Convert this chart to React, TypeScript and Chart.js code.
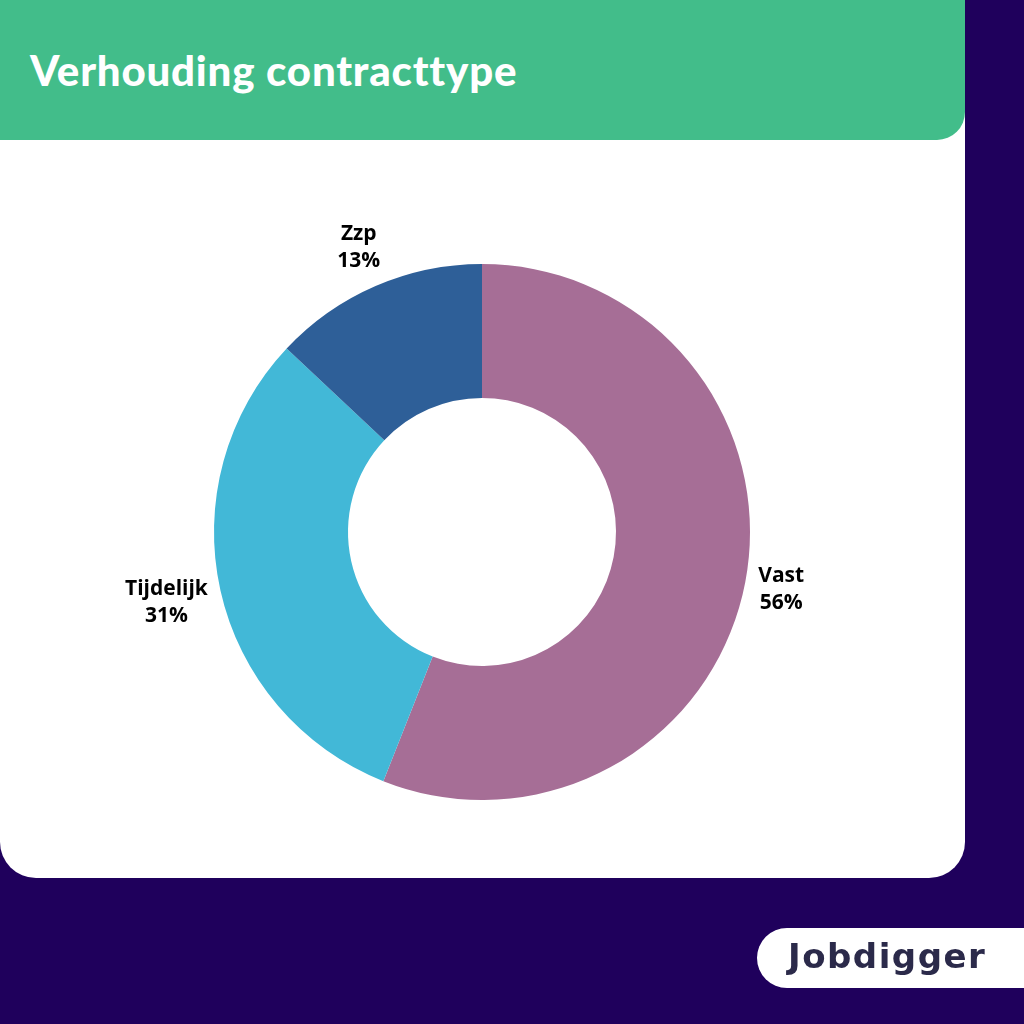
import React, { useEffect, useRef } from "react";
import { Chart, registerables } from "chart.js";

Chart.register(...registerables);

const categories = ["Vast", "Tijdelijk", "Zzp"];
const shares = [56, 31, 13];
const valueLabels = ["56%", "31%", "13%"];
const colors = ["#A66E96", "#42B8D7", "#2E5F98"];

const outsideLabels = {
  id: "outsideLabels",
  afterDatasetsDraw(chart: any) {
    const ctx = chart.ctx;
    const meta = chart.getDatasetMeta(0);
    ctx.save();
    ctx.font = "bold 21px 'Open Sans'";
    ctx.fillStyle = "#000000";
    ctx.textAlign = "center";
    ctx.textBaseline = "middle";
    const lineH = 27;
    meta.data.forEach((arc: any, i: number) => {
      const mid = (arc.startAngle + arc.endAngle) / 2;
      const cx = arc.x;
      const cy = arc.y;
      const lines = [categories[i], valueLabels[i]];
      const w = Math.max(...lines.map((l) => ctx.measureText(l).width));
      const h = lines.length * lineH;
      const r = arc.outerRadius + 9;
      const cos = Math.cos(mid);
      const sin = Math.sin(mid);
      const off = Math.abs(cos) * w / 2 + Math.abs(sin) * h / 2;
      const x = cx + cos * (r + off);
      const y = cy + sin * (r + off);
      lines.forEach((l, k) => {
        ctx.fillText(l, x, y - h / 2 + lineH / 2 + k * lineH);
      });
    });
    ctx.restore();
  },
};

function DonutChart() {
  const ref = useRef<HTMLCanvasElement>(null);
  useEffect(() => {
    if (!ref.current) return;
    const chart = new Chart(ref.current, {
      type: "doughnut",
      data: {
        labels: categories,
        datasets: [
          {
            data: shares,
            backgroundColor: colors,
            borderWidth: 0,
          },
        ],
      },
      options: {
        animation: false,
        responsive: false,
        maintainAspectRatio: false,
        cutout: "50%",
        layout: { padding: 132 },
        plugins: {
          legend: { display: false },
          tooltip: { enabled: false },
        },
      },
      plugins: [outsideLabels],
    });
    return () => chart.destroy();
  }, []);
  return (
    <canvas
      ref={ref}
      width={800}
      height={800}
      style={{ position: "absolute", left: 82, top: 132, width: 800, height: 800 }}
    />
  );
}

export default function App() {
  return (
    <div
      style={{
        position: "fixed",
        left: 0,
        top: 0,
        width: 1024,
        height: 1024,
        background: "#1F005C",
        overflow: "hidden",
      }}
    >
      <div
        style={{
          position: "absolute",
          left: 0,
          top: 100,
          width: 965,
          height: 778,
          background: "#FFFFFF",
          borderBottomLeftRadius: 36,
          borderBottomRightRadius: 36,
        }}
      />
      <div
        style={{
          position: "absolute",
          left: 0,
          top: 0,
          width: 965,
          height: 140,
          background: "#42BD8A",
          borderBottomRightRadius: 28,
        }}
      />
      <div
        style={{
          position: "absolute",
          left: 30,
          top: 44,
          color: "#FFFFFF",
          fontFamily: "Lato, sans-serif",
          fontWeight: 900,
          fontSize: 42,
          lineHeight: "52px",
          letterSpacing: 0.8,
          whiteSpace: "nowrap",
        }}
      >
        Verhouding contracttype
      </div>
      <DonutChart />
      <div
        style={{
          position: "absolute",
          left: 757,
          top: 928,
          width: 267,
          height: 60,
          background: "#FFFFFF",
          borderTopLeftRadius: 30,
          borderBottomLeftRadius: 30,
        }}
      />
      <div
        style={{
          position: "absolute",
          left: 788,
          top: 930,
          color: "#2B2A4A",
          fontFamily: "'DejaVu Sans', sans-serif",
          fontWeight: 700,
          fontSize: 34,
          lineHeight: "52px",
          letterSpacing: 1.5,
          whiteSpace: "nowrap",
        }}
      >
        Jobdigger
      </div>
    </div>
  );
}
